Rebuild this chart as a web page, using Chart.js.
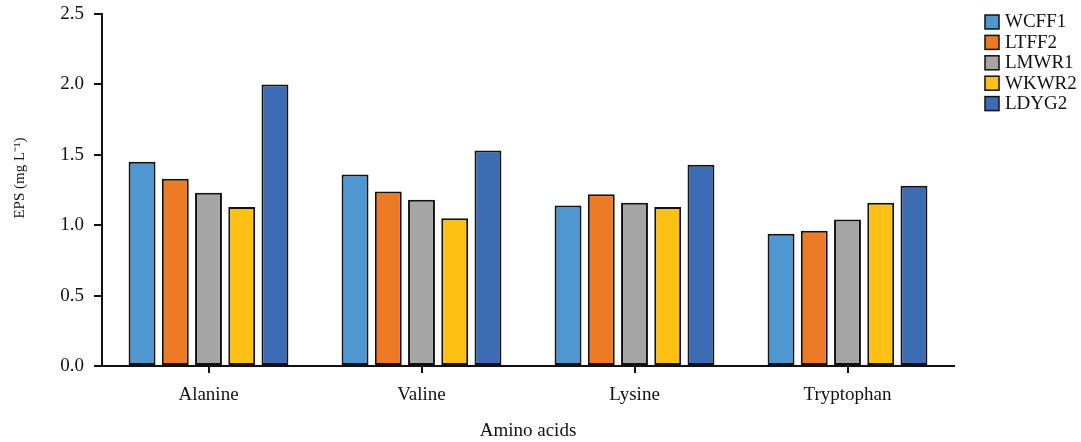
<!DOCTYPE html>
<html>
<head>
<meta charset="utf-8">
<script src="https://cdn.jsdelivr.net/npm/chart.js@4"></script>
<style>
  html, body { margin: 0; padding: 0; background: #fff; }
  #wrap { width: 1081px; height: 442px; }
</style>
</head>
<body>
<div id="wrap"><canvas id="grafico"></canvas></div>
<script>
const categorias = ['Alanine', 'Valine', 'Lysine', 'Tryptophan'];
const series = ['WCFF1', 'LTFF2', 'LMWR1', 'WKWR2', 'LDYG2'];
const wcff1 = [1.45, 1.36, 1.14, 0.94];
const ltff2 = [1.33, 1.24, 1.22, 0.96];
const lmwr1 = [1.23, 1.18, 1.16, 1.04];
const wkwr2 = [1.13, 1.05, 1.13, 1.16];
const ldyg2 = [2.00, 1.53, 1.43, 1.28];
const yTicks = [0, 0.5, 1.0, 1.5, 2.0, 2.5];
const tituloY = 'EPS (mg L\u207B\u00B9)';

const cores = ['#4e97d0', '#ed7b25', '#a5a5a5', '#fdc113', '#3c6db4'];
const valores = [wcff1, ltff2, lmwr1, wkwr2, ldyg2];
const fonte = "'Liberation Serif', 'Times New Roman', serif";
const preto = '#111';

// legenda no canto direito + título do eixo y (um pouco acima do centro, como no original)
const extrasPlugin = {
  id: 'extras',
  afterDraw(chart) {
    const ctx = chart.ctx;
    ctx.save();
    ctx.font = '19px ' + fonte;
    ctx.textBaseline = 'middle';
    chart.data.datasets.forEach((ds, i) => {
      const y = 15 + i * 20.4;
      ctx.fillStyle = ds.backgroundColor;
      ctx.fillRect(985, y, 14, 14);
      ctx.strokeStyle = preto;
      ctx.lineWidth = 1.5;
      ctx.strokeRect(985, y, 14, 14);
      ctx.fillStyle = preto;
      ctx.fillText(ds.label, 1005, y + 7.5);
    });

    ctx.translate(20, 178);
    ctx.rotate(-Math.PI / 2);
    ctx.font = '15px ' + fonte;
    ctx.textAlign = 'center';
    ctx.fillText(tituloY, 0, 0);
    ctx.restore();
  }
};

const ctx = document.getElementById('grafico').getContext('2d');
new Chart(ctx, {
  type: 'bar',
  data: {
    labels: categorias,
    datasets: series.map((nome, i) => ({
      label: nome,
      data: valores[i],
      backgroundColor: cores[i],
      borderColor: preto,
      borderWidth: 2,
      borderSkipped: false,
      categoryPercentage: 0.78,
      barPercentage: 0.81
    }))
  },
  options: {
    responsive: true,
    maintainAspectRatio: false,
    animation: false,
    layout: { padding: { top: 14, right: 127, bottom: 0, left: 0 } },
    plugins: {
      legend: { display: false },
      tooltip: { enabled: false }
    },
    scales: {
      x: {
        grid: {
          offset: false,
          drawOnChartArea: false,
          drawTicks: true,
          tickLength: 7,
          color: preto,
          lineWidth: 2
        },
        border: { display: true, color: preto, width: 2 },
        ticks: { color: preto, padding: 11, font: { family: fonte, size: 19 } },
        title: {
          display: true,
          text: 'Amino acids',
          color: preto,
          padding: { top: 0, bottom: 0 },
          font: { family: fonte, size: 19 }
        },
        afterFit: s => { s.height = 442 - 366; }
      },
      y: {
        min: 0,
        max: 2.5,
        afterBuildTicks: s => { s.ticks = yTicks.map(v => ({ value: v })); },
        grid: {
          drawOnChartArea: false,
          drawTicks: true,
          tickLength: 8,
          color: preto,
          lineWidth: 2
        },
        border: { display: true, color: preto, width: 2 },
        ticks: {
          color: preto,
          padding: 10,
          font: { family: fonte, size: 19 },
          callback: v => Number(v).toFixed(1)
        },
        afterFit: s => {
          s.width = 102;
          s.paddingTop = 0;
          s.paddingBottom = 0;
        }
      }
    }
  },
  plugins: [extrasPlugin]
});
</script>
</body>
</html>
